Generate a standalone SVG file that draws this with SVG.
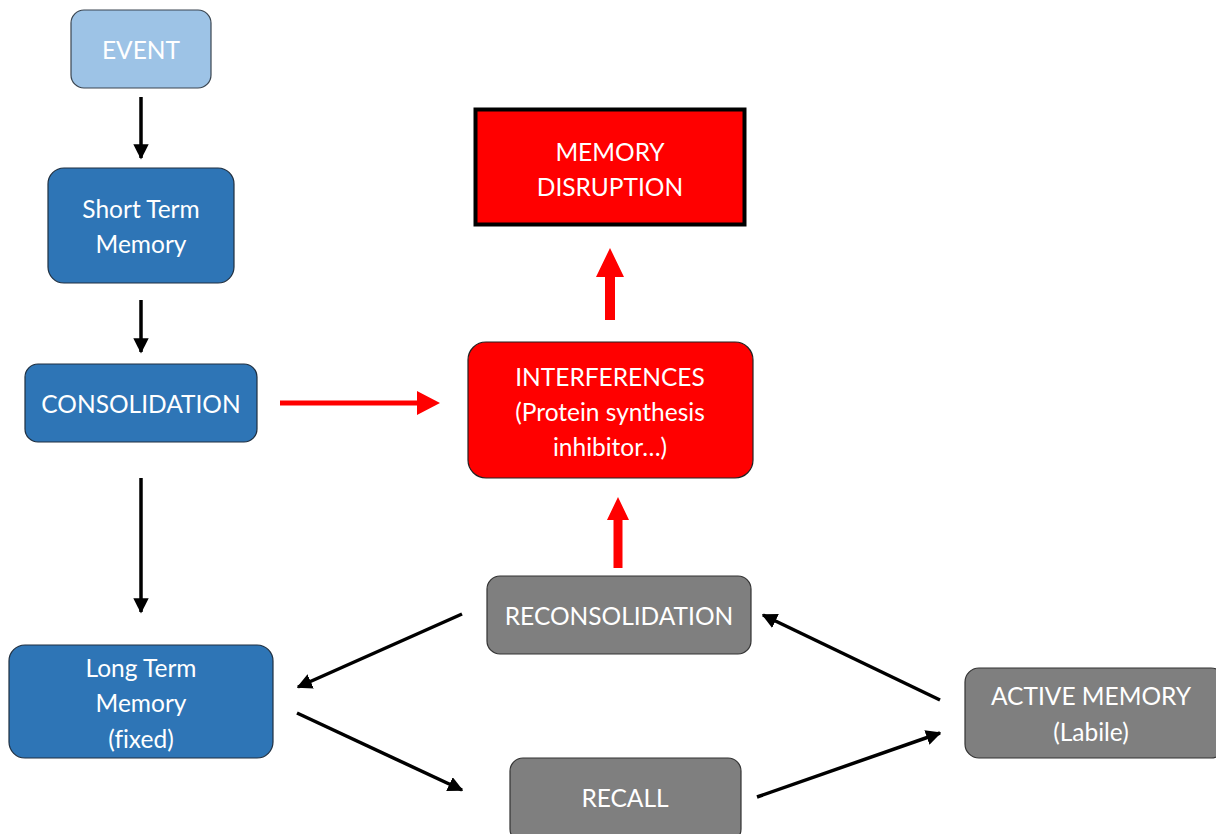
<svg xmlns="http://www.w3.org/2000/svg" width="1216" height="834" viewBox="0 0 1216 834">
<style>
.t{font-family:Lato,"Open Sans","Liberation Sans",sans-serif;font-size:24.5px;fill:#fff;text-anchor:middle;dominant-baseline:central;font-variant-ligatures:none}
.blue{fill:#2E75B6;stroke:#1f2f40;stroke-width:1.2}
.light{fill:#9DC3E6;stroke:#3a4550;stroke-width:1.2}
.gray{fill:#7F7F7F;stroke:#333;stroke-width:1.2}
.red{fill:#FF0000;stroke:#222;stroke-width:1.2}
.k{stroke:#000;stroke-width:3.5;fill:none;marker-end:url(#ah)}
.r{fill:#FF0000}
</style>
<defs>
<marker id="ah" viewBox="0 0 10 10" refX="9" refY="5" markerWidth="4.4" markerHeight="4.4" orient="auto">
<path d="M0,0 L10,5 L0,10 z" fill="#000"/>
</marker>
</defs>
<g id="connectors">
<line class="k" x1="141" y1="97" x2="141" y2="158"/>
<line class="k" x1="141" y1="300" x2="141" y2="352"/>
<line class="k" x1="141" y1="478" x2="141" y2="612"/>
<line class="k" x1="462" y1="614" x2="298" y2="687"/>
<line class="k" x1="297" y1="713" x2="462" y2="790"/>
<line class="k" x1="757" y1="797" x2="940" y2="733"/>
<line class="k" x1="940" y1="700" x2="763" y2="615"/>
<polygon class="r" points="280,400.5 417,400.5 417,391 440,403 417,415 417,405.5 280,405.5"/>
<polygon class="r" points="605,320 605,277 596,277 610,248 624,277 615,277 615,320"/>
<polygon class="r" points="613.5,568 613.5,520 607,520 618,497 629,520 622.5,520 622.5,568"/>
</g>
<g id="event"><rect class="light" x="71" y="10" width="140" height="78" rx="13"/><text class="t" x="141" y="49">EVENT</text></g>
<g id="stm"><rect class="blue" x="48" y="168" width="186" height="115" rx="16"/><text class="t" x="141" y="208">Short Term</text><text class="t" x="141" y="243">Memory</text></g>
<g id="consolidation"><rect class="blue" x="25" y="364" width="232" height="78" rx="13"/><text class="t" x="141" y="403">CONSOLIDATION</text></g>
<g id="ltm"><rect class="blue" x="9" y="645" width="264" height="113" rx="16"/><text class="t" x="141" y="667">Long Term</text><text class="t" x="141" y="702">Memory</text><text class="t" x="141" y="738">(fixed)</text></g>
<g id="disruption"><rect x="475.5" y="109.5" width="269" height="115" fill="#FF0000" stroke="#000" stroke-width="4"/><text class="t" x="610" y="151">MEMORY</text><text class="t" x="610" y="186">DISRUPTION</text></g>
<g id="interferences"><rect class="red" x="468" y="342" width="285" height="136" rx="18"/><text class="t" x="610" y="376">INTERFERENCES</text><text class="t" x="610" y="411">(Protein synthesis</text><text class="t" x="610" y="446">inhibitor…)</text></g>
<g id="reconsolidation"><rect class="gray" x="487" y="576" width="264" height="78" rx="13"/><text class="t" x="619" y="615">RECONSOLIDATION</text></g>
<g id="recall"><rect class="gray" x="510" y="758" width="231" height="84" rx="13"/><text class="t" x="625" y="797">RECALL</text></g>
<g id="active"><rect class="gray" x="965" y="668" width="260" height="90" rx="14"/><text class="t" x="1091" y="695">ACTIVE MEMORY</text><text class="t" x="1091" y="731">(Labile)</text></g>
</svg>
